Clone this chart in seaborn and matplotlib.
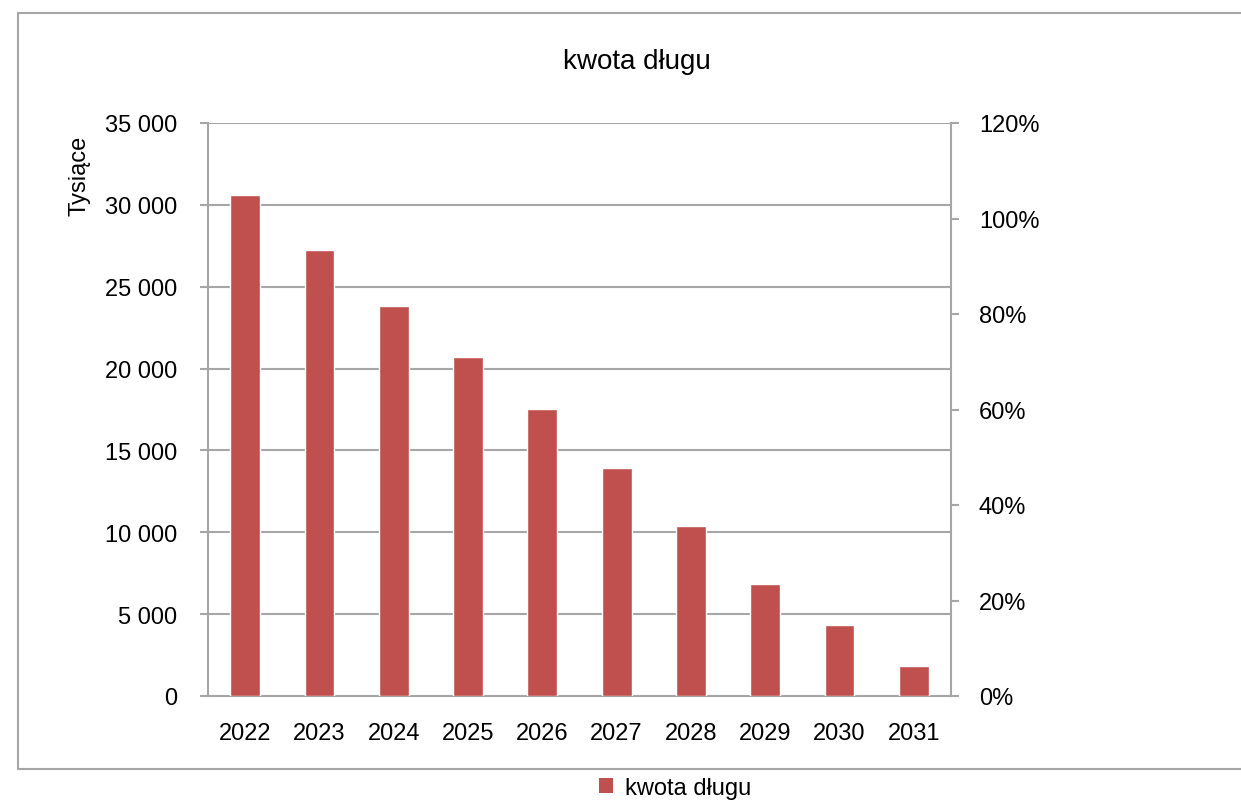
import matplotlib
matplotlib.use("Agg")
import matplotlib.pyplot as plt
import seaborn as sns
import pandas as pd
from matplotlib.ticker import FuncFormatter, FixedLocator
from matplotlib.lines import Line2D
from matplotlib.patches import Rectangle

years = ["2022", "2023", "2024", "2025", "2026", "2027", "2028", "2029", "2030", "2031"]
debt = [30600, 27240, 23840, 20680, 17520, 13950, 10410, 6860, 4360, 1850]
series_name = "kwota długu"
title = "kwota długu"
ylabel = "Tysiące"
left_ticks = [0, 5000, 10000, 15000, 20000, 25000, 30000, 35000]
right_ticks = [0, 0.2, 0.4, 0.6, 0.8, 1.0, 1.2]

sns.set_theme(style="white")
plt.rcParams['font.family'] = ['Liberation Sans', 'DejaVu Sans']
plt.rcParams['text.color'] = 'black'

BAR = "#C0504D"
GRID = "#A6A6A6"
FS = 17

W, H = 1241, 804
fig = plt.figure(figsize=(W / 100, H / 100), dpi=100)
ax = fig.add_axes([208 / W, 1 - 697 / H, (951 - 208) / W, (697 - 124) / H])

df = pd.DataFrame({"year": years, "value": debt})
sns.barplot(data=df, x="year", y="value", color=BAR, width=0.4, ax=ax,
            saturation=1, zorder=3)

ax.set_xlim(-0.5, len(years) - 0.5)
ax.set_ylim(0, 35000)
ax.yaxis.set_major_locator(FixedLocator(left_ticks))
ax.yaxis.set_major_formatter(FuncFormatter(lambda v, p: f"{v:,.0f}".replace(",", " ")))
ax.grid(axis="y", color=GRID, linewidth=1.5, zorder=0)
ax.grid(axis="x", visible=False)
ax.set_axisbelow(True)

# x ticks: labels at centres, marks at boundaries
ax.set_xticks(range(len(years)))
ax.set_xticklabels(years)
ax.set_xticks([i - 0.5 for i in range(len(years) + 1)], minor=True)
ax.tick_params(axis="x", which="major", length=0, labelsize=FS, pad=19, colors="black")
ax.tick_params(axis="x", which="minor", length=5.5, width=1.5, color=GRID, direction="out")
ax.tick_params(axis="y", which="major", length=6, width=1.5, color=GRID, labelsize=FS,
               pad=16, labelcolor="black", left=True)
ax.set_xlabel("")
ax.set_ylabel("")

for s in ["left", "bottom"]:
    ax.spines[s].set_color(GRID)
    ax.spines[s].set_linewidth(1.5)
ax.spines["top"].set_visible(False)
ax.spines["right"].set_visible(False)

ax2 = ax.twinx()
ax2.set_ylim(0, 1.2)
ax2.yaxis.set_major_locator(FixedLocator(right_ticks))
ax2.yaxis.set_major_formatter(FuncFormatter(lambda v, p: f"{v * 100:.0f}%"))
ax2.tick_params(axis="y", length=6, width=1.5, color=GRID, labelsize=FS, pad=14,
                labelcolor="black", right=True)
ax2.grid(False)
for s in ["left", "bottom", "top"]:
    ax2.spines[s].set_visible(False)
ax2.spines["right"].set_color(GRID)
ax2.spines["right"].set_linewidth(1.5)

fig.text(637 / W, 1 - 62 / H, title, ha="center", va="center", fontsize=20, color="black")
fig.text(80 / W, 1 - 176 / H, ylabel, ha="center", va="center", rotation=90, fontsize=FS,
         color="black")

# chart border (left, top, bottom)
fig.add_artist(Line2D([18 / W, 18 / W], [1 - 14 / H, 1 - 770 / H], color=GRID, lw=1.5,
                      transform=fig.transFigure))
fig.add_artist(Line2D([18 / W, 1.0], [1 - 14 / H, 1 - 14 / H], color=GRID, lw=1.5,
                      transform=fig.transFigure))
fig.add_artist(Line2D([18 / W, 1.0], [1 - 770 / H, 1 - 770 / H], color=GRID, lw=1.5,
                      transform=fig.transFigure))

# legend
handle = Rectangle((0, 0), 1, 1, facecolor=BAR, edgecolor="none")
leg = fig.legend([handle], [series_name], loc="center", bbox_to_anchor=(675 / W, 1 - 789 / H),
                 frameon=False, fontsize=FS, handlelength=0.6, handleheight=0.6,
                 handletextpad=0.5)
for t in leg.get_texts():
    t.set_color("black")

fig.savefig("out.png", dpi=100, facecolor="white")
